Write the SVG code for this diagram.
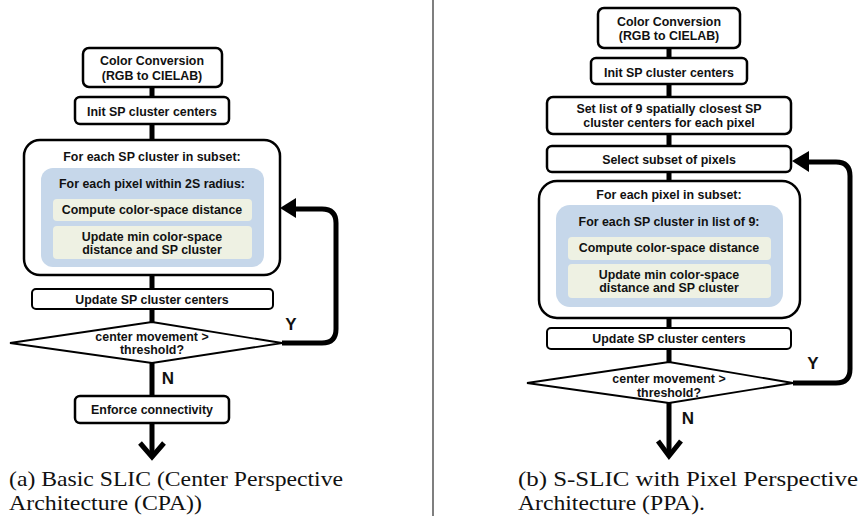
<svg xmlns="http://www.w3.org/2000/svg" width="860" height="519" viewBox="0 0 860 519">
<style>
.box{fill:#fff;stroke:#000;stroke-width:2.5}
.blue{fill:#c6d7ea;stroke:none}
.inner{fill:#eef1e3;stroke:none}
.dia{fill:#fff;stroke:#000;stroke-width:1.8}
.t{font-family:"Liberation Sans",Arial,sans-serif;font-weight:bold;font-size:12.4px;text-anchor:middle;fill:#111}
.lbl{font-family:"Liberation Sans",Arial,sans-serif;font-weight:bold;font-size:17px;text-anchor:middle;fill:#111}
.cap{font-family:"Liberation Serif","Times New Roman",serif;font-size:21.5px;fill:#111}
.con{fill:none;stroke:#000;stroke-width:5}
.chev{fill:none;stroke:#000;stroke-width:5;stroke-linejoin:miter}
</style>
<line x1="433" y1="0" x2="433" y2="516" stroke="#555" stroke-width="1.5"/>
<g id="connectors">
<path class="con" d="M152 87V97M152 124V140M152 275V289M152 309V322M152 363V396M152 423V455"/>
<polyline class="chev" points="140,443 152,457 164,443"/>
<path class="con" d="M282 343H322Q336 343 336 329V223Q336 209 322 209H294"/>
<polygon points="280,208 296,198 296,218"/>
<path class="con" d="M669 48V58M669 84V97M669 134V146M669 172V181M669 318V328M669 349V362M669 403V455"/>
<polyline class="chev" points="658,441 669,456 681,441"/>
<path class="con" d="M793 383H836Q850 383 850 369V176Q850 162 836 162H806"/>
<polygon points="792,161 809,151 809,172"/>
</g>
<g id="a-color">
<rect class="box" x="83" y="48" width="139" height="39" rx="6"/>
<text class="t" x="152" y="65">Color Conversion</text>
<text class="t" x="152" y="80">(RGB to CIELAB)</text>
</g>
<g id="a-init">
<rect class="box" x="75" y="97" width="154" height="27" rx="5"/>
<text class="t" x="152" y="116">Init SP cluster centers</text>
</g>
<g id="a-loop">
<rect class="box" x="24" y="140" width="256" height="135" rx="16"/>
<text class="t" x="152" y="161">For each SP cluster in subset:</text>
<rect class="blue" x="41" y="168" width="223" height="99" rx="12"/>
<text class="t" x="152" y="188">For each pixel within 2S radius:</text>
<rect class="inner" x="53" y="199" width="199" height="22" rx="4"/>
<text class="t" x="152" y="214">Compute color-space distance</text>
<rect class="inner" x="53" y="226" width="199" height="33" rx="4"/>
<text class="t" x="152" y="241">Update min color-space</text>
<text class="t" x="152" y="254">distance and SP cluster</text>
</g>
<g id="a-update">
<rect class="box" x="32" y="289" width="241" height="20" rx="4" style="stroke-width:2"/>
<text class="t" x="152" y="304">Update SP cluster centers</text>
</g>
<g id="a-decision">
<polygon class="dia" points="10,343 152,322 282,343 152,363"/>
<text class="t" x="152" y="341">center movement &gt;</text>
<text class="t" x="152" y="354">threshold?</text>
</g>
<text class="lbl" x="291" y="330">Y</text>
<text class="lbl" x="168" y="384">N</text>
<g id="a-enforce">
<rect class="box" x="75" y="396" width="154" height="27" rx="5"/>
<text class="t" x="152" y="414">Enforce connectivity</text>
</g>
<g id="a-caption">
<text class="cap" x="9" y="486" textLength="334" lengthAdjust="spacingAndGlyphs">(a) Basic SLIC (Center Perspective</text>
<text class="cap" x="9" y="510" textLength="193" lengthAdjust="spacingAndGlyphs">Architecture (CPA))</text>
</g>
<g id="b-color">
<rect class="box" x="598" y="8" width="142" height="40" rx="6"/>
<text class="t" x="669" y="26">Color Conversion</text>
<text class="t" x="669" y="40">(RGB to CIELAB)</text>
</g>
<g id="b-init">
<rect class="box" x="591" y="58" width="156" height="26" rx="5"/>
<text class="t" x="669" y="77">Init SP cluster centers</text>
</g>
<g id="b-setlist">
<rect class="box" x="547" y="97" width="244" height="37" rx="6"/>
<text class="t" x="669" y="113">Set list of 9 spatially closest SP</text>
<text class="t" x="669" y="127">cluster centers for each pixel</text>
</g>
<g id="b-select">
<rect class="box" x="547" y="146" width="244" height="26" rx="5"/>
<text class="t" x="669" y="164">Select subset of pixels</text>
</g>
<g id="b-loop">
<rect class="box" x="539" y="181" width="261" height="137" rx="18"/>
<text class="t" x="669" y="199">For each pixel in subset:</text>
<rect class="blue" x="556" y="205" width="227" height="102" rx="14"/>
<text class="t" x="669" y="226">For each SP cluster in list of 9:</text>
<rect class="inner" x="568" y="237" width="203" height="23" rx="4"/>
<text class="t" x="669" y="252">Compute color-space distance</text>
<rect class="inner" x="568" y="264" width="203" height="34" rx="4"/>
<text class="t" x="669" y="279">Update min color-space</text>
<text class="t" x="669" y="292">distance and SP cluster</text>
</g>
<g id="b-update">
<rect class="box" x="547" y="328" width="244" height="21" rx="4" style="stroke-width:2"/>
<text class="t" x="669" y="343">Update SP cluster centers</text>
</g>
<g id="b-decision">
<polygon class="dia" points="527,383 669,362 793,383 669,403"/>
<text class="t" x="669" y="383">center movement &gt;</text>
<text class="t" x="669" y="397">threshold?</text>
</g>
<text class="lbl" x="813" y="369">Y</text>
<text class="lbl" x="688" y="424">N</text>
<g id="b-caption">
<text class="cap" x="518" y="486" textLength="340" lengthAdjust="spacingAndGlyphs">(b) S-SLIC with Pixel Perspective</text>
<text class="cap" x="518" y="510" textLength="187" lengthAdjust="spacingAndGlyphs">Architecture (PPA).</text>
</g>
</svg>
